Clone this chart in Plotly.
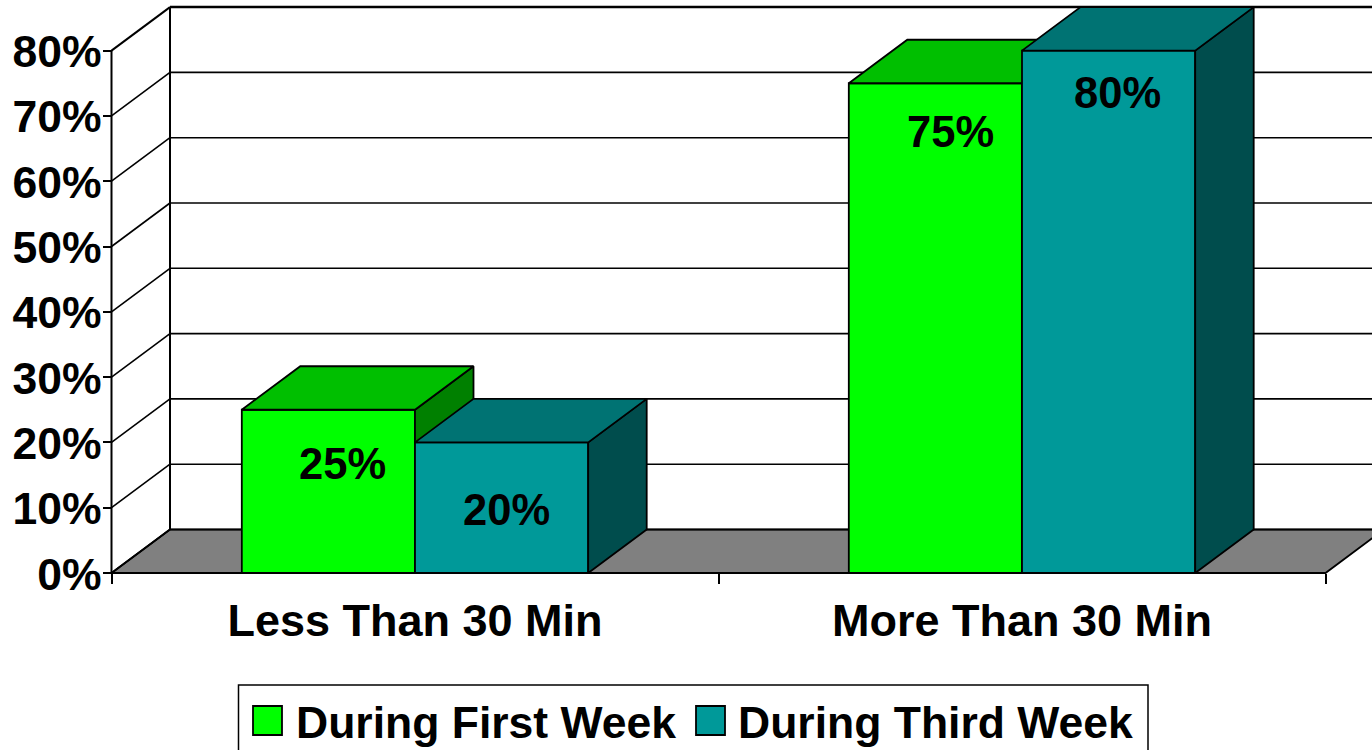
import plotly.graph_objects as go

# Survey results by session length and study week
categories = ["Less Than 30 Min", "More Than 30 Min"]
series_names = ["During First Week", "During Third Week"]
first_week = [25, 75]
third_week = [20, 80]
percent_ticks = [0, 10, 20, 30, 40, 50, 60, 70, 80]

# Page geometry in pixels
W, H = 1372, 750
CAT_PX = 607.0        # width of one category
LEFT_PX = 111.5       # x of the front axis
ZERO_PX = 573.0       # y of the 0% front edge
UNIT_PX = 6.53        # pixels per percentage point
DEPTH_X_PX, DEPTH_Y_PX = 58.5, 43.5   # oblique shift of the back wall

x0 = -0.5 - LEFT_PX / CAT_PX
x_range = [x0, x0 + W / CAT_PX]
y_range = [(ZERO_PX - H) / UNIT_PX, ZERO_PX / UNIT_PX]
dx = DEPTH_X_PX / CAT_PX
dy = DEPTH_Y_PX / UNIT_PX
bar_w = 173.2 / CAT_PX
x_min, x_max = -0.5, 1.5

FONT = "Liberation Sans, Arial, sans-serif"
CAT_SIZE = 45
BIG = 44.5
VALUE_SIZE = 43.5
BLACK = "#000000"
pos = list(range(len(categories)))


def box_faces(values, offset):
    """Top and right-hand faces of an oblique box for each category."""
    top_x, top_y, side_x, side_y = [], [], [], []
    for c, v in zip(pos, values):
        a = c + offset
        b = a + bar_w
        top_x += [a, b, b + dx, a + dx, a, None]
        top_y += [v, v, v + dy, v + dy, v, None]
        side_x += [b, b + dx, b + dx, b, b, None]
        side_y += [v, v + dy, dy, 0, v, None]
    return top_x, top_y, side_x, side_y


fig = go.Figure()

styles = [
    (first_week, -bar_w, "#00FF00", "#00BF00", "#008000", "x", "y"),
    (third_week, 0.0, "#009999", "#007373", "#004D4D", "x2", "y2"),
]
for (values, offset, front, top, side, xa, ya), name in zip(styles, series_names):
    fig.add_trace(go.Bar(
        x=pos, y=values, width=bar_w, offset=offset, name=name,
        marker=dict(color=front, line=dict(color=BLACK, width=1.8)),
        xaxis=xa, yaxis=ya, showlegend=False,
    ))
    tx, ty, sx, sy = box_faces(values, offset)
    for fx, fy, colour in ((sx, sy, side), (tx, ty, top)):
        fig.add_trace(go.Scatter(
            x=fx, y=fy, mode="lines", fill="toself", fillcolor=colour,
            line=dict(color=BLACK, width=1.8), hoverinfo="skip",
            xaxis=xa, yaxis=ya, showlegend=False,
        ))

shapes = []


def data_line(xa, ya, xb, yb, width=1.5):
    shapes.append(dict(type="line", layer="below", xref="x", yref="y",
                       x0=xa, y0=ya, x1=xb, y1=yb,
                       line=dict(color=BLACK, width=width)))


# Grey floor
shapes.append(dict(
    type="path", layer="below", xref="x", yref="y",
    path=(f"M{x_min},0 L{x_min + dx},{dy} L{x_max + dx},{dy} L{x_max},0 Z"),
    fillcolor="#808080", line=dict(color=BLACK, width=1.8),
))
# Side wall and back wall rules
for t in percent_ticks:
    data_line(x_min, t, x_min + dx, t + dy, 1.6 if t < percent_ticks[-1] else 2)
    data_line(x_min + dx, t + dy, x_max + dx, t + dy, 1.6 if t < percent_ticks[-1] else 2.5)
data_line(x_min + dx, dy, x_min + dx, percent_ticks[-1] + dy, 2)
# Front axis lines
data_line(x_min, 0, x_min, percent_ticks[-1], 2)
data_line(x_min, 0, x_max, 0, 2)


def px_x(p):
    return p / W


def px_y(p):
    return 1 - p / H


# Legend frame and swatches, positioned on the page
shapes.append(dict(type="rect", xref="paper", yref="paper",
                   x0=px_x(238.5), x1=px_x(1148), y0=px_y(685), y1=px_y(765),
                   fillcolor="#FFFFFF", line=dict(color=BLACK, width=1.5), layer="above"))
legend_items = [(253, 294, styles[0][2]), (696, 736, styles[1][2])]
annotations = []
for (sw, tx_px, colour), name in zip(legend_items, series_names):
    shapes.append(dict(type="rect", xref="paper", yref="paper",
                       x0=px_x(sw), x1=px_x(sw + 29), y0=px_y(706), y1=px_y(735),
                       fillcolor=colour, line=dict(color=BLACK, width=1.8), layer="above"))
    annotations.append(dict(
        xref="paper", yref="paper", x=px_x(tx_px), y=px_y(722), text=name,
        xanchor="left", yanchor="middle", showarrow=False,
        font=dict(family=FONT, size=BIG, color=BLACK, weight=700),
    ))

# Value labels sit on the front faces; shifts are per label in pixels
label_shifts = [[(14, -54), (15, -49)], [(5, -68), (9, -42)]]
for (values, offset, *_), shifts in zip(styles, label_shifts):
    for c, v, (sx_px, sy_px) in zip(pos, values, shifts):
        annotations.append(dict(
            xref="x", yref="y", x=c + offset + bar_w / 2, y=v,
            xshift=sx_px, yshift=sy_px, text=f"{v}%", showarrow=False,
            xanchor="center", yanchor="middle",
            font=dict(family=FONT, size=VALUE_SIZE, color=BLACK, weight=700),
        ))

fig.update_layout(
    width=W, height=H, margin=dict(l=0, r=0, t=0, b=0), autosize=False,
    paper_bgcolor="#FFFFFF", plot_bgcolor="#FFFFFF",
    barmode="overlay", showlegend=False,
    shapes=shapes, annotations=annotations,
    xaxis=dict(
        range=x_range, domain=[0, 1], anchor="free", side="bottom",
        position=1 - ZERO_PX / H,
        tickmode="array", tickvals=pos, ticktext=categories,
        tickfont=dict(family=FONT, size=CAT_SIZE, color=BLACK, weight=700),
        ticks="", ticklabelstandoff=17, showgrid=False, zeroline=False, showline=False,
        minor=dict(tickmode="array", tickvals=[-0.5, 0.5, 1.5], ticks="outside",
                   ticklen=10, tickwidth=1.5, tickcolor=BLACK, showgrid=False),
    ),
    yaxis=dict(
        range=y_range, domain=[0, 1], anchor="free", side="left",
        position=LEFT_PX / W,
        tickmode="array", tickvals=percent_ticks,
        ticktext=[f"{t}%" for t in percent_ticks],
        tickfont=dict(family=FONT, size=BIG, color=BLACK, weight=700),
        ticks="outside", ticklen=9, tickwidth=1.5, tickcolor=BLACK,
        ticklabelstandoff=-8, ticklabelshift=1, showgrid=False, zeroline=False, showline=False,
    ),
    xaxis2=dict(range=x_range, overlaying="x", visible=False, anchor="y2"),
    yaxis2=dict(range=y_range, overlaying="y", visible=False, anchor="x2"),
)

fig.write_html("out.html", config=dict(displayModeBar=False))
